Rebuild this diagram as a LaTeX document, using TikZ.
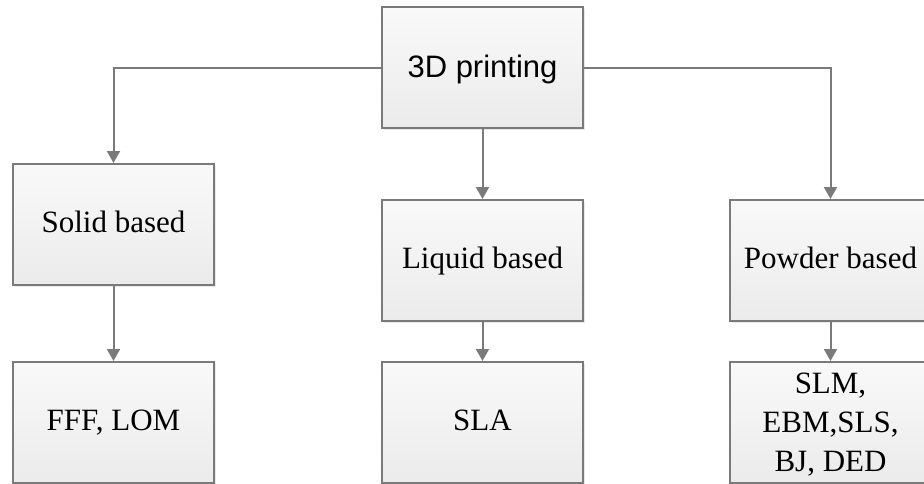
\documentclass[tikz,border=0pt]{standalone}
\usepackage{fontspec}
\setmainfont{Liberation Serif}
\setsansfont{Liberation Sans}
\usetikzlibrary{arrows.meta,shadows}
\definecolor{edgegray}{HTML}{7A7A7A}
\definecolor{topfill}{HTML}{F9F9F9}
\definecolor{botfill}{HTML}{EBEBEB}
\tikzset{
  boxnode/.style={draw=edgegray, line width=2pt, top color=topfill, bottom color=botfill,
    minimum width=201pt, minimum height=121pt, inner sep=0pt, align=center,
    text height=23pt, text depth=7pt,
    font=\fontsize{31}{39}\selectfont,
    drop shadow={opacity=0.18, shadow xshift=2pt, shadow yshift=-2pt}},
  conn/.style={draw=edgegray, line width=2pt, -{Triangle[width=13pt,length=12pt]}, color=edgegray}
}
\begin{document}
\begin{tikzpicture}[x=1pt,y=-1pt]
\path[use as bounding box] (0,0) rectangle (924,483);
\clip (0,0) rectangle (924,483);
\fill[white] (0,0) rectangle (924,483);
\node[boxnode, font=\sffamily\fontsize{31}{39}\selectfont, text height=24pt, text depth=5pt] (root) at (482.5,67.5) {3D printing};
\node[boxnode] (solid) at (113.5,224.5) {Solid based};
\node[boxnode] (liquid) at (482.5,260.5) {Liquid based};
\node[boxnode] (powder) at (830.5,260.5) {Powder based};
\node[boxnode] (fff) at (113.5,422.5) {FFF, LOM};
\node[boxnode] (sla) at (482.5,422.5) {SLA};
\node[boxnode, text height=102pt, text depth=5pt] (slm) at (830.5,422.5) {SLM,\\EBM,SLS,\\BJ, DED};
\draw[conn] (root.west) -| (solid.north);
\draw[conn] (root.east) -| (powder.north);
\draw[conn] (root.south) -- (liquid.north);
\draw[conn] (solid.south) -- (fff.north);
\draw[conn] (liquid.south) -- (sla.north);
\draw[conn] (powder.south) -- (slm.north);
\end{tikzpicture}
\end{document}
